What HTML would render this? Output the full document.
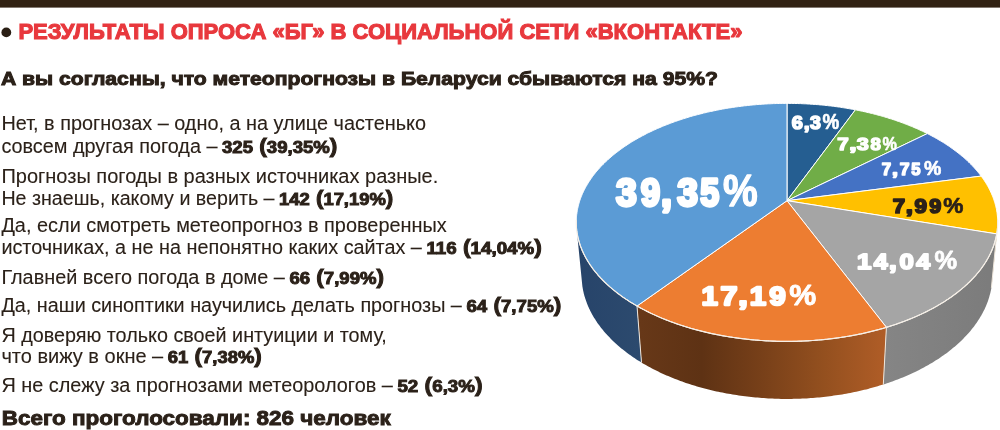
<!DOCTYPE html>
<html><head><meta charset="utf-8"><style>
html,body{margin:0;padding:0;background:#fff;width:1000px;height:430px;overflow:hidden}
svg{display:block;will-change:transform}
text{font-family:"Liberation Sans",sans-serif}
</style></head><body>
<svg width="1000" height="430" viewBox="0 0 1000 430">
<g fill="#2b2119"><rect x="0" y="0" width="1000" height="7.6" fill="#312213"/>
<circle cx="6.3" cy="32.4" r="4.9" fill="#2a1e14"/>
<defs>
<linearGradient id="gOrange" gradientUnits="userSpaceOnUse" x1="640" y1="0" x2="886" y2="0">
<stop offset="0" stop-color="#673818"/><stop offset="0.25" stop-color="#5e3214"/><stop offset="0.5" stop-color="#784019"/><stop offset="0.75" stop-color="#94501f"/><stop offset="1" stop-color="#b05d27"/></linearGradient>
<linearGradient id="gGrey" gradientUnits="userSpaceOnUse" x1="886" y1="0" x2="1000" y2="0">
<stop offset="0" stop-color="#858585"/><stop offset="1" stop-color="#7b7b7b"/></linearGradient>
<linearGradient id="gBlue" gradientUnits="userSpaceOnUse" x1="578" y1="0" x2="640" y2="0">
<stop offset="0" stop-color="#27446a"/><stop offset="1" stop-color="#2c4a6e"/></linearGradient>
</defs>
<polygon points="997.0,232.6 996.9,233.2 996.7,233.9 991.4,287.9 991.5,287.2 991.6,286.5" fill="#b38600"/>
<polygon points="996.7,233.9 996.6,235.0 996.3,236.0 996.1,237.1 995.9,238.2 995.6,239.2 995.3,240.3 995.0,241.3 994.7,242.4 994.4,243.5 994.1,244.5 993.7,245.6 993.3,246.7 992.9,247.7 992.5,248.8 992.1,249.8 991.6,250.9 991.1,252.0 990.6,253.0 990.1,254.1 989.6,255.1 989.1,256.2 988.5,257.3 987.9,258.3 987.3,259.4 986.7,260.4 986.1,261.5 985.4,262.5 984.7,263.5 984.0,264.6 983.3,265.6 982.6,266.7 981.9,267.7 981.1,268.7 980.3,269.8 979.5,270.8 978.7,271.8 977.9,272.9 977.0,273.9 976.1,274.9 975.2,275.9 974.3,276.9 973.4,277.9 972.4,278.9 971.5,279.9 970.5,280.9 969.5,281.9 968.5,282.9 967.4,283.9 966.4,284.9 965.3,285.8 964.2,286.8 963.1,287.8 962.0,288.7 960.8,289.7 959.7,290.6 958.5,291.6 957.3,292.5 956.1,293.4 954.8,294.4 953.6,295.3 952.3,296.2 951.0,297.1 949.7,298.0 948.4,298.9 947.0,299.8 945.7,300.7 944.3,301.6 942.9,302.5 941.5,303.3 940.1,304.2 938.6,305.0 937.2,305.9 935.7,306.7 934.2,307.6 932.7,308.4 931.2,309.2 929.6,310.0 928.1,310.8 926.5,311.6 924.9,312.4 923.3,313.1 921.7,313.9 920.1,314.7 918.4,315.4 916.8,316.2 915.1,316.9 913.4,317.6 911.7,318.3 910.0,319.0 908.2,319.7 906.5,320.4 904.7,321.1 902.9,321.8 901.2,322.4 899.4,323.1 897.5,323.7 895.7,324.4 893.9,325.0 892.0,325.6 890.1,326.2 888.3,326.8 886.4,327.3 883.3,384.5 885.1,383.9 887.0,383.3 888.8,382.7 890.6,382.0 892.4,381.4 894.1,380.7 895.9,380.1 897.7,379.4 899.4,378.7 901.1,378.1 902.8,377.4 904.5,376.7 906.2,375.9 907.9,375.2 909.6,374.5 911.2,373.7 912.8,373.0 914.5,372.2 916.1,371.4 917.6,370.7 919.2,369.9 920.8,369.1 922.3,368.3 923.9,367.4 925.4,366.6 926.9,365.8 928.4,365.0 929.8,364.1 931.3,363.2 932.7,362.4 934.1,361.5 935.5,360.6 936.9,359.8 938.3,358.9 939.7,358.0 941.0,357.1 942.3,356.1 943.6,355.2 944.9,354.3 946.2,353.4 947.5,352.4 948.7,351.5 949.9,350.5 951.2,349.6 952.3,348.6 953.5,347.6 954.7,346.7 955.8,345.7 956.9,344.7 958.0,343.7 959.1,342.7 960.2,341.7 961.3,340.7 962.3,339.7 963.3,338.7 964.3,337.6 965.3,336.6 966.3,335.6 967.2,334.6 968.2,333.5 969.1,332.5 970.0,331.4 970.8,330.4 971.7,329.3 972.5,328.3 973.4,327.2 974.2,326.2 975.0,325.1 975.7,324.0 976.5,323.0 977.2,321.9 977.9,320.8 978.6,319.7 979.3,318.7 980.0,317.6 980.6,316.5 981.3,315.4 981.9,314.3 982.5,313.2 983.1,312.1 983.6,311.0 984.2,309.9 984.7,308.9 985.2,307.8 985.7,306.7 986.2,305.6 986.6,304.5 987.0,303.4 987.5,302.3 987.9,301.2 988.3,300.0 988.6,298.9 989.0,297.8 989.3,296.7 989.6,295.6 989.9,294.5 990.2,293.4 990.5,292.3 990.7,291.2 991.0,290.1 991.2,289.0 991.4,287.9" fill="url(#gGrey)"/>
<polygon points="886.4,327.3 884.5,327.9 882.5,328.5 880.6,329.0 878.6,329.6 876.7,330.1 874.7,330.6 872.7,331.1 870.7,331.6 868.7,332.1 866.7,332.6 864.7,333.0 862.6,333.5 860.6,333.9 858.5,334.3 856.5,334.8 854.4,335.2 852.3,335.5 850.3,335.9 848.2,336.3 846.1,336.6 843.9,337.0 841.8,337.3 839.7,337.6 837.6,337.9 835.4,338.2 833.3,338.5 831.2,338.8 829.0,339.0 826.8,339.3 824.7,339.5 822.5,339.7 820.3,339.9 818.2,340.1 816.0,340.3 813.8,340.4 811.6,340.6 809.4,340.7 807.2,340.9 805.0,341.0 802.8,341.1 800.6,341.2 798.4,341.2 796.2,341.3 794.0,341.3 791.8,341.4 789.6,341.4 787.4,341.4 785.2,341.4 783.0,341.4 780.8,341.4 778.6,341.3 776.4,341.3 774.2,341.2 772.0,341.1 769.8,341.0 767.6,340.9 765.4,340.8 763.2,340.6 761.0,340.5 758.8,340.3 756.6,340.2 754.4,340.0 752.3,339.8 750.1,339.6 747.9,339.3 745.8,339.1 743.6,338.9 741.5,338.6 739.3,338.3 737.2,338.0 735.0,337.7 732.9,337.4 730.8,337.1 728.7,336.8 726.6,336.4 724.5,336.1 722.4,335.7 720.3,335.3 718.2,334.9 716.2,334.5 714.1,334.1 712.1,333.6 710.0,333.2 708.0,332.7 706.0,332.3 704.0,331.8 702.0,331.3 700.0,330.8 698.0,330.3 696.1,329.8 694.1,329.2 692.2,328.7 690.2,328.1 688.3,327.5 686.4,327.0 684.5,326.4 682.6,325.8 680.7,325.2 678.9,324.5 677.0,323.9 675.2,323.3 673.4,322.6 671.6,322.0 669.8,321.3 668.0,320.6 666.2,319.9 664.5,319.2 662.7,318.5 661.0,317.8 659.3,317.1 657.6,316.3 655.9,315.6 654.3,314.8 652.6,314.1 651.0,313.3 649.4,312.5 647.8,311.7 646.2,310.9 644.6,310.1 643.1,309.3 641.5,308.5 640.0,307.7 638.5,306.8 637.0,306.0 641.5,362.5 642.9,363.4 644.4,364.2 645.9,365.1 647.4,365.9 648.9,366.8 650.4,367.6 652.0,368.4 653.5,369.2 655.1,370.0 656.7,370.8 658.3,371.6 659.9,372.4 661.5,373.2 663.2,373.9 664.9,374.7 666.5,375.4 668.2,376.1 669.9,376.8 671.6,377.6 673.4,378.3 675.1,378.9 676.9,379.6 678.6,380.3 680.4,380.9 682.2,381.6 684.0,382.2 685.8,382.9 687.7,383.5 689.5,384.1 691.4,384.7 693.2,385.3 695.1,385.8 697.0,386.4 698.9,386.9 700.8,387.5 702.7,388.0 704.6,388.5 706.6,389.0 708.5,389.5 710.5,390.0 712.4,390.5 714.4,390.9 716.4,391.4 718.4,391.8 720.4,392.2 722.4,392.6 724.4,393.0 726.5,393.4 728.5,393.8 730.5,394.1 732.6,394.5 734.6,394.8 736.7,395.1 738.7,395.5 740.8,395.7 742.9,396.0 745.0,396.3 747.1,396.6 749.2,396.8 751.3,397.0 753.4,397.2 755.5,397.4 757.6,397.6 759.7,397.8 761.8,398.0 763.9,398.1 766.0,398.3 768.2,398.4 770.3,398.5 772.4,398.6 774.6,398.7 776.7,398.8 778.8,398.8 781.0,398.9 783.1,398.9 785.2,398.9 787.4,398.9 789.5,398.9 791.7,398.9 793.8,398.8 795.9,398.8 798.1,398.7 800.2,398.7 802.3,398.6 804.4,398.5 806.6,398.4 808.7,398.2 810.8,398.1 812.9,397.9 815.1,397.8 817.2,397.6 819.3,397.4 821.4,397.2 823.5,396.9 825.6,396.7 827.7,396.5 829.8,396.2 831.8,395.9 833.9,395.6 836.0,395.3 838.0,395.0 840.1,394.7 842.2,394.4 844.2,394.0 846.2,393.7 848.3,393.3 850.3,392.9 852.3,392.5 854.3,392.1 856.3,391.7 858.3,391.2 860.3,390.8 862.3,390.3 864.2,389.8 866.2,389.4 868.1,388.9 870.0,388.3 872.0,387.8 873.9,387.3 875.8,386.8 877.7,386.2 879.6,385.6 881.4,385.1 883.3,384.5" fill="url(#gOrange)"/>
<polygon points="637.0,306.0 635.6,305.2 634.1,304.3 632.7,303.4 631.2,302.6 629.8,301.7 628.5,300.8 627.1,299.9 625.7,299.0 624.4,298.1 623.1,297.2 621.8,296.3 620.5,295.4 619.3,294.4 618.0,293.5 616.8,292.6 615.6,291.6 614.4,290.7 613.2,289.7 612.1,288.8 610.9,287.8 609.8,286.8 608.7,285.8 607.6,284.9 606.6,283.9 605.5,282.9 604.5,281.9 603.5,280.9 602.5,279.9 601.5,278.9 600.6,277.9 599.6,276.9 598.7,275.9 597.8,274.8 597.0,273.8 596.1,272.8 595.3,271.8 594.4,270.7 593.6,269.7 592.8,268.7 592.1,267.6 591.3,266.6 590.6,265.5 589.9,264.5 589.2,263.4 588.5,262.4 587.9,261.3 587.2,260.3 586.6,259.2 586.0,258.2 585.4,257.1 584.9,256.0 584.3,255.0 583.8,253.9 583.3,252.9 582.8,251.8 582.3,250.7 581.9,249.7 581.4,248.6 581.0,247.5 580.6,246.4 580.2,245.4 579.9,244.3 579.5,243.2 579.2,242.2 578.9,241.1 578.6,240.0 578.3,239.0 578.1,237.9 577.8,236.8 577.6,235.8 577.4,234.7 577.2,233.6 577.0,232.6 582.4,286.5 582.6,287.6 582.8,288.7 583.0,289.8 583.2,290.9 583.5,292.1 583.7,293.2 584.0,294.3 584.3,295.4 584.6,296.5 585.0,297.6 585.3,298.7 585.7,299.8 586.1,300.9 586.5,302.0 586.9,303.2 587.3,304.3 587.8,305.4 588.2,306.5 588.7,307.6 589.2,308.7 589.8,309.8 590.3,310.9 590.9,312.0 591.4,313.1 592.0,314.2 592.6,315.3 593.3,316.4 593.9,317.5 594.6,318.5 595.3,319.6 596.0,320.7 596.7,321.8 597.4,322.9 598.2,324.0 599.0,325.0 599.8,326.1 600.6,327.2 601.4,328.2 602.3,329.3 603.1,330.3 604.0,331.4 604.9,332.5 605.8,333.5 606.8,334.5 607.7,335.6 608.7,336.6 609.7,337.6 610.7,338.7 611.7,339.7 612.7,340.7 613.8,341.7 614.9,342.7 616.0,343.7 617.1,344.7 618.2,345.7 619.4,346.7 620.5,347.7 621.7,348.7 622.9,349.6 624.1,350.6 625.4,351.5 626.6,352.5 627.9,353.4 629.2,354.4 630.5,355.3 631.8,356.2 633.1,357.2 634.5,358.1 635.8,359.0 637.2,359.9 638.6,360.8 640.0,361.6 641.5,362.5" fill="url(#gBlue)"/>
<line x1="996.7" y1="233.9" x2="991.4" y2="287.9" stroke="#eee6dc" stroke-width="1"/>
<line x1="886.4" y1="327.3" x2="883.3" y2="384.5" stroke="#eee6dc" stroke-width="1"/>
<line x1="637.0" y1="306.0" x2="641.5" y2="362.5" stroke="#eee6dc" stroke-width="1"/>
<polygon points="787.0,200.7 787.0,103.4 788.5,103.4 790.0,103.4 791.5,103.4 793.0,103.4 794.5,103.5 796.0,103.5 797.6,103.5 799.1,103.6 800.6,103.6 802.1,103.7 803.6,103.8 805.1,103.8 806.6,103.9 808.1,104.0 809.6,104.1 811.1,104.2 812.6,104.3 814.1,104.4 815.6,104.5 817.1,104.6 818.6,104.7 820.1,104.9 821.6,105.0 823.1,105.1 824.5,105.3 826.0,105.4 827.5,105.6 829.0,105.8 830.5,105.9 832.0,106.1 833.5,106.3 834.9,106.5 836.4,106.7 837.9,106.9 839.4,107.1 840.8,107.3 842.3,107.6 843.8,107.8 845.2,108.0 846.7,108.3 848.1,108.5 849.6,108.8 851.0,109.0 852.5,109.3 853.9,109.5 855.4,109.8" fill="#255E91" stroke="#ffffff" stroke-width="1" stroke-linejoin="round"/>
<polygon points="787.0,200.7 855.4,109.8 856.8,110.1 858.3,110.4 859.7,110.7 861.1,111.0 862.6,111.3 864.0,111.6 865.4,111.9 866.8,112.3 868.2,112.6 869.6,112.9 871.1,113.3 872.5,113.6 873.9,114.0 875.3,114.3 876.6,114.7 878.0,115.1 879.4,115.4 880.8,115.8 882.2,116.2 883.5,116.6 884.9,117.0 886.3,117.4 887.6,117.8 889.0,118.3 890.3,118.7 891.7,119.1 893.0,119.5 894.4,120.0 895.7,120.4 897.0,120.9 898.4,121.4 899.7,121.8 901.0,122.3 902.3,122.8 903.6,123.3 904.9,123.8 906.2,124.2 907.5,124.8 908.8,125.3 910.0,125.8 911.3,126.3 912.6,126.8 913.8,127.4 915.1,127.9 916.3,128.4 917.6,129.0 918.8,129.5 920.0,130.1 921.3,130.7 922.5,131.2 923.7,131.8 924.9,132.4 926.1,133.0 927.3,133.6" fill="#70AD47" stroke="#ffffff" stroke-width="1" stroke-linejoin="round"/>
<polygon points="787.0,200.7 927.3,133.6 928.5,134.2 929.7,134.8 930.8,135.4 932.0,136.0 933.2,136.7 934.4,137.3 935.5,138.0 936.7,138.6 937.8,139.3 938.9,139.9 940.1,140.6 941.2,141.3 942.3,141.9 943.4,142.6 944.5,143.3 945.6,144.0 946.6,144.7 947.7,145.4 948.8,146.1 949.8,146.8 950.8,147.6 951.9,148.3 952.9,149.0 953.9,149.8 954.9,150.5 955.9,151.2 956.9,152.0 957.9,152.8 958.9,153.5 959.8,154.3 960.8,155.1 961.7,155.9 962.6,156.6 963.6,157.4 964.5,158.2 965.4,159.0 966.3,159.8 967.1,160.6 968.0,161.5 968.9,162.3 969.7,163.1 970.6,163.9 971.4,164.8 972.2,165.6 973.0,166.5 973.8,167.3 974.6,168.2 975.4,169.0 976.1,169.9 976.9,170.8 977.6,171.7 978.3,172.5 979.1,173.4 979.8,174.3 980.5,175.2 981.1,176.1" fill="#4472C4" stroke="#ffffff" stroke-width="1" stroke-linejoin="round"/>
<polygon points="787.0,200.7 981.1,176.1 981.8,177.0 982.5,177.9 983.1,178.8 983.7,179.7 984.3,180.6 984.9,181.6 985.5,182.5 986.1,183.4 986.7,184.3 987.2,185.3 987.8,186.2 988.3,187.2 988.8,188.1 989.3,189.1 989.8,190.0 990.3,191.0 990.7,192.0 991.2,192.9 991.6,193.9 992.0,194.9 992.4,195.8 992.8,196.8 993.2,197.8 993.5,198.8 993.9,199.8 994.2,200.8 994.5,201.8 994.9,202.8 995.1,203.8 995.4,204.8 995.7,205.8 995.9,206.8 996.1,207.8 996.4,208.8 996.6,209.9 996.7,210.9 996.9,211.9 997.1,212.9 997.2,214.0 997.3,215.0 997.4,216.0 997.5,217.1 997.6,218.1 997.7,219.2 997.7,220.2 997.7,221.3 997.7,222.3 997.7,223.3 997.7,224.4 997.7,225.4 997.6,226.5 997.5,227.6 997.4,228.6 997.3,229.7 997.2,230.7 997.1,231.8 996.9,232.8 996.7,233.9" fill="#FFC000" stroke="#ffffff" stroke-width="1" stroke-linejoin="round"/>
<polygon points="787.0,200.7 996.7,233.9 996.6,235.0 996.3,236.0 996.1,237.1 995.9,238.2 995.6,239.2 995.3,240.3 995.0,241.3 994.7,242.4 994.4,243.5 994.1,244.5 993.7,245.6 993.3,246.7 992.9,247.7 992.5,248.8 992.1,249.8 991.6,250.9 991.1,252.0 990.6,253.0 990.1,254.1 989.6,255.1 989.1,256.2 988.5,257.3 987.9,258.3 987.3,259.4 986.7,260.4 986.1,261.5 985.4,262.5 984.7,263.5 984.0,264.6 983.3,265.6 982.6,266.7 981.9,267.7 981.1,268.7 980.3,269.8 979.5,270.8 978.7,271.8 977.9,272.9 977.0,273.9 976.1,274.9 975.2,275.9 974.3,276.9 973.4,277.9 972.4,278.9 971.5,279.9 970.5,280.9 969.5,281.9 968.5,282.9 967.4,283.9 966.4,284.9 965.3,285.8 964.2,286.8 963.1,287.8 962.0,288.7 960.8,289.7 959.7,290.6 958.5,291.6 957.3,292.5 956.1,293.4 954.8,294.4 953.6,295.3 952.3,296.2 951.0,297.1 949.7,298.0 948.4,298.9 947.0,299.8 945.7,300.7 944.3,301.6 942.9,302.5 941.5,303.3 940.1,304.2 938.6,305.0 937.2,305.9 935.7,306.7 934.2,307.6 932.7,308.4 931.2,309.2 929.6,310.0 928.1,310.8 926.5,311.6 924.9,312.4 923.3,313.1 921.7,313.9 920.1,314.7 918.4,315.4 916.8,316.2 915.1,316.9 913.4,317.6 911.7,318.3 910.0,319.0 908.2,319.7 906.5,320.4 904.7,321.1 902.9,321.8 901.2,322.4 899.4,323.1 897.5,323.7 895.7,324.4 893.9,325.0 892.0,325.6 890.1,326.2 888.3,326.8 886.4,327.3" fill="#A5A5A5" stroke="#ffffff" stroke-width="1" stroke-linejoin="round"/>
<polygon points="787.0,200.7 886.4,327.3 884.5,327.9 882.5,328.5 880.6,329.0 878.6,329.6 876.7,330.1 874.7,330.6 872.7,331.1 870.7,331.6 868.7,332.1 866.7,332.6 864.7,333.0 862.6,333.5 860.6,333.9 858.5,334.3 856.5,334.8 854.4,335.2 852.3,335.5 850.3,335.9 848.2,336.3 846.1,336.6 843.9,337.0 841.8,337.3 839.7,337.6 837.6,337.9 835.4,338.2 833.3,338.5 831.2,338.8 829.0,339.0 826.8,339.3 824.7,339.5 822.5,339.7 820.3,339.9 818.2,340.1 816.0,340.3 813.8,340.4 811.6,340.6 809.4,340.7 807.2,340.9 805.0,341.0 802.8,341.1 800.6,341.2 798.4,341.2 796.2,341.3 794.0,341.3 791.8,341.4 789.6,341.4 787.4,341.4 785.2,341.4 783.0,341.4 780.8,341.4 778.6,341.3 776.4,341.3 774.2,341.2 772.0,341.1 769.8,341.0 767.6,340.9 765.4,340.8 763.2,340.6 761.0,340.5 758.8,340.3 756.6,340.2 754.4,340.0 752.3,339.8 750.1,339.6 747.9,339.3 745.8,339.1 743.6,338.9 741.5,338.6 739.3,338.3 737.2,338.0 735.0,337.7 732.9,337.4 730.8,337.1 728.7,336.8 726.6,336.4 724.5,336.1 722.4,335.7 720.3,335.3 718.2,334.9 716.2,334.5 714.1,334.1 712.1,333.6 710.0,333.2 708.0,332.7 706.0,332.3 704.0,331.8 702.0,331.3 700.0,330.8 698.0,330.3 696.1,329.8 694.1,329.2 692.2,328.7 690.2,328.1 688.3,327.5 686.4,327.0 684.5,326.4 682.6,325.8 680.7,325.2 678.9,324.5 677.0,323.9 675.2,323.3 673.4,322.6 671.6,322.0 669.8,321.3 668.0,320.6 666.2,319.9 664.5,319.2 662.7,318.5 661.0,317.8 659.3,317.1 657.6,316.3 655.9,315.6 654.3,314.8 652.6,314.1 651.0,313.3 649.4,312.5 647.8,311.7 646.2,310.9 644.6,310.1 643.1,309.3 641.5,308.5 640.0,307.7 638.5,306.8 637.0,306.0" fill="#ED7D31" stroke="#ffffff" stroke-width="1" stroke-linejoin="round"/>
<polygon points="787.0,200.7 637.0,306.0 635.6,305.2 634.1,304.3 632.7,303.4 631.2,302.6 629.8,301.7 628.5,300.8 627.1,299.9 625.7,299.0 624.4,298.1 623.1,297.2 621.8,296.3 620.5,295.4 619.2,294.4 618.0,293.5 616.8,292.6 615.6,291.6 614.4,290.7 613.2,289.7 612.0,288.7 610.9,287.8 609.8,286.8 608.7,285.8 607.6,284.8 606.5,283.9 605.5,282.9 604.5,281.9 603.5,280.9 602.5,279.9 601.5,278.9 600.6,277.9 599.6,276.8 598.7,275.8 597.8,274.8 596.9,273.8 596.1,272.8 595.2,271.7 594.4,270.7 593.6,269.7 592.8,268.6 592.0,267.6 591.3,266.5 590.6,265.5 589.9,264.4 589.2,263.4 588.5,262.3 587.8,261.3 587.2,260.2 586.6,259.2 586.0,258.1 585.4,257.1 584.8,256.0 584.3,254.9 583.8,253.9 583.3,252.8 582.8,251.7 582.3,250.7 581.8,249.6 581.4,248.5 581.0,247.5 580.6,246.4 580.2,245.3 579.9,244.2 579.5,243.2 579.2,242.1 578.9,241.0 578.6,240.0 578.3,238.9 578.0,237.8 577.8,236.8 577.6,235.7 577.4,234.6 577.2,233.5 577.0,232.5 576.9,231.4 576.7,230.4 576.6,229.3 576.5,228.2 576.4,227.2 576.4,226.1 576.3,225.0 576.3,224.0 576.3,222.9 576.3,221.9 576.3,220.8 576.3,219.8 576.4,218.7 576.4,217.7 576.5,216.6 576.6,215.6 576.7,214.6 576.9,213.5 577.0,212.5 577.2,211.5 577.3,210.4 577.5,209.4 577.7,208.4 578.0,207.3 578.2,206.3 578.5,205.3 578.7,204.3 579.0,203.3 579.3,202.3 579.6,201.3 579.9,200.3 580.3,199.3 580.6,198.3 581.0,197.3 581.4,196.3 581.8,195.3 582.2,194.3 582.6,193.3 583.1,192.4 583.5,191.4 584.0,190.4 584.5,189.5 585.0,188.5 585.5,187.6 586.0,186.6 586.6,185.7 587.1,184.7 587.7,183.8 588.3,182.8 588.8,181.9 589.4,181.0 590.1,180.1 590.7,179.1 591.3,178.2 592.0,177.3 592.6,176.4 593.3,175.5 594.0,174.6 594.7,173.7 595.4,172.8 596.1,171.9 596.9,171.1 597.6,170.2 598.4,169.3 599.2,168.5 599.9,167.6 600.7,166.7 601.5,165.9 602.3,165.1 603.2,164.2 604.0,163.4 604.9,162.5 605.7,161.7 606.6,160.9 607.5,160.1 608.3,159.3 609.2,158.5 610.2,157.7 611.1,156.9 612.0,156.1 612.9,155.3 613.9,154.5 614.8,153.8 615.8,153.0 616.8,152.2 617.8,151.5 618.8,150.7 619.8,150.0 620.8,149.2 621.8,148.5 622.8,147.8 623.9,147.0 624.9,146.3 626.0,145.6 627.1,144.9 628.1,144.2 629.2,143.5 630.3,142.8 631.4,142.1 632.5,141.4 633.6,140.8 634.8,140.1 635.9,139.4 637.0,138.8 638.2,138.1 639.3,137.5 640.5,136.9 641.7,136.2 642.8,135.6 644.0,135.0 645.2,134.4 646.4,133.7 647.6,133.1 648.8,132.5 650.0,131.9 651.3,131.4 652.5,130.8 653.7,130.2 655.0,129.6 656.2,129.1 657.5,128.5 658.8,128.0 660.0,127.4 661.3,126.9 662.6,126.3 663.9,125.8 665.2,125.3 666.5,124.8 667.8,124.3 669.1,123.8 670.4,123.3 671.7,122.8 673.0,122.3 674.4,121.8 675.7,121.3 677.0,120.9 678.4,120.4 679.7,120.0 681.1,119.5 682.5,119.1 683.8,118.6 685.2,118.2 686.6,117.8 688.0,117.3 689.3,116.9 690.7,116.5 692.1,116.1 693.5,115.7 694.9,115.3 696.3,115.0 697.7,114.6 699.1,114.2 700.6,113.9 702.0,113.5 703.4,113.1 704.8,112.8 706.3,112.5 707.7,112.1 709.1,111.8 710.6,111.5 712.0,111.2 713.5,110.9 714.9,110.6 716.4,110.3 717.8,110.0 719.3,109.7 720.8,109.4 722.2,109.1 723.7,108.9 725.2,108.6 726.6,108.4 728.1,108.1 729.6,107.9 731.1,107.7 732.6,107.4 734.0,107.2 735.5,107.0 737.0,106.8 738.5,106.6 740.0,106.4 741.5,106.2 743.0,106.0 744.5,105.8 746.0,105.7 747.5,105.5 749.0,105.3 750.5,105.2 752.0,105.0 753.5,104.9 755.1,104.8 756.6,104.6 758.1,104.5 759.6,104.4 761.1,104.3 762.6,104.2 764.1,104.1 765.7,104.0 767.2,103.9 768.7,103.8 770.2,103.8 771.8,103.7 773.3,103.6 774.8,103.6 776.3,103.5 777.8,103.5 779.4,103.5 780.9,103.4 782.4,103.4 783.9,103.4 785.5,103.4 787.0,103.4" fill="#5B9BD5" stroke="#ffffff" stroke-width="1" stroke-linejoin="round"/>
<polyline points="997.7,219.8 997.7,220.9 997.7,221.9 997.7,223.0 997.7,224.0 997.7,225.1 997.6,226.2 997.6,227.2 997.5,228.3 997.4,229.4 997.3,230.4 997.1,231.5 997.0,232.6 996.8,233.6 996.6,234.7 996.4,235.8 996.2,236.8 995.9,237.9 995.7,239.0 995.4,240.0 995.1,241.1 994.8,242.2 994.5,243.3 994.1,244.3 993.8,245.4 993.4,246.5 993.0,247.6 992.5,248.6 992.1,249.7 991.7,250.8 991.2,251.8 990.7,252.9 990.2,254.0 989.6,255.0 989.1,256.1 988.5,257.2 988.0,258.2 987.3,259.3 986.7,260.4 986.1,261.4 985.4,262.5 984.7,263.5 984.1,264.6 983.3,265.6 982.6,266.7 981.9,267.7 981.1,268.8 980.3,269.8 979.5,270.8 978.7,271.9 977.8,272.9 976.9,273.9 976.1,275.0 975.2,276.0 974.2,277.0 973.3,278.0 972.3,279.0 971.4,280.0 970.4,281.0 969.4,282.0 968.3,283.0 967.3,284.0 966.2,285.0 965.1,286.0 964.0,287.0 962.9,287.9 961.8,288.9 960.6,289.9 959.4,290.8 958.2,291.8 957.0,292.7 955.8,293.7 954.5,294.6 953.3,295.5 952.0,296.5 950.7,297.4 949.3,298.3 948.0,299.2 946.6,300.1 945.3,301.0 943.9,301.9 942.5,302.7 941.0,303.6 939.6,304.5 938.1,305.3 936.7,306.2 935.2,307.0 933.7,307.9 932.1,308.7 930.6,309.5 929.0,310.3 927.5,311.1 925.9,311.9 924.3,312.7 922.6,313.5 921.0,314.3 919.3,315.0 917.7,315.8 916.0,316.5 914.3,317.2 912.6,318.0 910.9,318.7 909.1,319.4 907.3,320.1 905.6,320.8 903.8,321.5 902.0,322.1 900.2,322.8 898.4,323.4 896.5,324.1 894.7,324.7 892.8,325.3 890.9,325.9 889.0,326.5 887.1,327.1 885.2,327.7 883.3,328.3 881.3,328.8 879.4,329.4 877.4,329.9 875.5,330.4 873.5,330.9 871.5,331.4 869.5,331.9 867.5,332.4 865.4,332.9 863.4,333.3 861.4,333.8 859.3,334.2 857.3,334.6 855.2,335.0 853.1,335.4 851.0,335.8 848.9,336.2 846.8,336.5 844.7,336.9 842.6,337.2 840.5,337.5 838.3,337.8 836.2,338.1 834.1,338.4 831.9,338.7 829.8,338.9 827.6,339.2 825.4,339.4 823.3,339.6 821.1,339.8 818.9,340.0 816.7,340.2 814.5,340.4 812.3,340.5 810.2,340.7 808.0,340.8 805.8,340.9 803.6,341.0 801.4,341.1 799.1,341.2 796.9,341.3 794.7,341.3 792.5,341.4 790.3,341.4 788.1,341.4 785.9,341.4 783.7,341.4 781.5,341.4 779.3,341.3 777.1,341.3 774.9,341.2 772.6,341.1 770.4,341.0 768.2,340.9 766.0,340.8 763.8,340.7 761.7,340.5 759.5,340.4 757.3,340.2 755.1,340.0 752.9,339.8 750.7,339.6 748.6,339.4 746.4,339.2 744.2,338.9 742.1,338.7 739.9,338.4 737.8,338.1 735.7,337.8 733.5,337.5 731.4,337.2 729.3,336.9 727.2,336.5 725.1,336.2 723.0,335.8 720.9,335.4 718.8,335.0 716.7,334.6 714.7,334.2 712.6,333.8 710.6,333.3 708.6,332.9 706.5,332.4 704.5,331.9 702.5,331.4 700.5,330.9 698.5,330.4 696.6,329.9 694.6,329.4 692.7,328.8 690.7,328.3 688.8,327.7 686.9,327.1 685.0,326.5 683.1,325.9 681.2,325.3 679.3,324.7 677.5,324.1 675.6,323.4 673.8,322.8 672.0,322.1 670.2,321.5 668.4,320.8 666.7,320.1 664.9,319.4 663.1,318.7 661.4,318.0 659.7,317.2 658.0,316.5 656.3,315.8 654.7,315.0 653.0,314.3 651.4,313.5 649.7,312.7 648.1,311.9 646.5,311.1 645.0,310.3 643.4,309.5 641.9,308.7 640.3,307.9 638.8,307.0 637.3,306.2 635.9,305.3 634.4,304.5 633.0,303.6 631.5,302.7 630.1,301.9 628.7,301.0 627.4,300.1 626.0,299.2 624.7,298.3 623.3,297.4 622.0,296.5 620.7,295.5 619.5,294.6 618.2,293.7 617.0,292.7 615.8,291.8 614.6,290.8 613.4,289.9 612.2,288.9 611.1,287.9 610.0,287.0 608.9,286.0 607.8,285.0 606.7,284.0 605.7,283.0 604.6,282.0 603.6,281.0 602.6,280.0 601.7,279.0 600.7,278.0 599.8,277.0 598.8,276.0 597.9,275.0 597.1,273.9 596.2,272.9 595.3,271.9 594.5,270.8 593.7,269.8 592.9,268.8 592.1,267.7 591.4,266.7 590.7,265.6 589.9,264.6 589.3,263.5 588.6,262.5 587.9,261.4 587.3,260.4 586.7,259.3 586.0,258.2 585.5,257.2 584.9,256.1 584.4,255.0 583.8,254.0 583.3,252.9 582.8,251.8 582.3,250.8 581.9,249.7 581.5,248.6 581.0,247.6 580.6,246.5 580.2,245.4 579.9,244.3 579.5,243.3 579.2,242.2 578.9,241.1 578.6,240.0 578.3,239.0 578.1,237.9 577.8,236.8 577.6,235.8 577.4,234.7 577.2,233.6 577.0,232.6 576.9,231.5 576.7,230.4 576.6,229.4 576.5,228.3 576.4,227.2 576.4,226.2 576.3,225.1 576.3,224.0 576.3,223.0 576.3,221.9 576.3,220.9 576.3,219.8" fill="none" stroke="#f6efe6" stroke-width="1.2"/>
<text x="1.4" y="130.4" font-size="19.4" stroke="#2b2119" stroke-width="0.1" textLength="424.7" lengthAdjust="spacingAndGlyphs" xml:space="preserve">Нет, в прогнозах – одно, а на улице частенько</text>
<text x="1.4" y="152.7" font-size="19.4" stroke="#2b2119" stroke-width="0.1" textLength="221.6" lengthAdjust="spacingAndGlyphs" xml:space="preserve">совсем другая погода – </text>
<text x="222.0" y="152.7" font-size="19.4" font-weight="bold" stroke="#2b2119" stroke-width="0.9" textLength="115.4" lengthAdjust="spacingAndGlyphs"><tspan font-size="15.9">325</tspan> (<tspan font-size="15.9">39,35%</tspan>)</text>
<text x="1.4" y="183.4" font-size="19.4" stroke="#2b2119" stroke-width="0.1" textLength="436.9" lengthAdjust="spacingAndGlyphs" xml:space="preserve">Прогнозы погоды в разных источниках разные.</text>
<text x="1.4" y="205.3" font-size="19.4" stroke="#2b2119" stroke-width="0.1" textLength="278.6" lengthAdjust="spacingAndGlyphs" xml:space="preserve">Не знаешь, какому и верить – </text>
<text x="279.0" y="205.3" font-size="19.4" font-weight="bold" stroke="#2b2119" stroke-width="0.9" textLength="114.3" lengthAdjust="spacingAndGlyphs"><tspan font-size="15.9">142</tspan> (<tspan font-size="15.9">17,19%</tspan>)</text>
<text x="1.4" y="231.6" font-size="19.4" stroke="#2b2119" stroke-width="0.1" textLength="445.4" lengthAdjust="spacingAndGlyphs" xml:space="preserve">Да, если смотреть метеопрогноз в проверенных</text>
<text x="1.4" y="253.6" font-size="19.4" stroke="#2b2119" stroke-width="0.1" textLength="426.0" lengthAdjust="spacingAndGlyphs" xml:space="preserve">источниках, а не на непонятно каких сайтах – </text>
<text x="426.4" y="253.6" font-size="19.4" font-weight="bold" stroke="#2b2119" stroke-width="0.9" textLength="115.4" lengthAdjust="spacingAndGlyphs"><tspan font-size="15.9">116</tspan> (<tspan font-size="15.9">14,04%</tspan>)</text>
<text x="1.4" y="284.4" font-size="19.4" stroke="#2b2119" stroke-width="0.1" textLength="289.0" lengthAdjust="spacingAndGlyphs" xml:space="preserve">Главней всего погода в доме – </text>
<text x="289.4" y="284.4" font-size="19.4" font-weight="bold" stroke="#2b2119" stroke-width="0.9" textLength="94.6" lengthAdjust="spacingAndGlyphs"><tspan font-size="15.9">66</tspan> (<tspan font-size="15.9">7,99%</tspan>)</text>
<text x="1.4" y="311.8" font-size="19.4" stroke="#2b2119" stroke-width="0.1" textLength="466.0" lengthAdjust="spacingAndGlyphs" xml:space="preserve">Да, наши синоптики научились делать прогнозы – </text>
<text x="466.4" y="311.8" font-size="19.4" font-weight="bold" stroke="#2b2119" stroke-width="0.9" textLength="95.0" lengthAdjust="spacingAndGlyphs"><tspan font-size="15.9">64</tspan> (<tspan font-size="15.9">7,75%</tspan>)</text>
<text x="1.4" y="341.6" font-size="19.4" stroke="#2b2119" stroke-width="0.1" textLength="385.4" lengthAdjust="spacingAndGlyphs" xml:space="preserve">Я доверяю только своей интуиции и тому,</text>
<text x="1.4" y="362.8" font-size="19.4" stroke="#2b2119" stroke-width="0.1" textLength="167.4" lengthAdjust="spacingAndGlyphs" xml:space="preserve">что вижу в окне – </text>
<text x="167.8" y="362.8" font-size="19.4" font-weight="bold" stroke="#2b2119" stroke-width="0.9" textLength="94.0" lengthAdjust="spacingAndGlyphs"><tspan font-size="15.9">61</tspan> (<tspan font-size="15.9">7,38%</tspan>)</text>
<text x="1.4" y="392.2" font-size="19.4" stroke="#2b2119" stroke-width="0.1" textLength="397.0" lengthAdjust="spacingAndGlyphs" xml:space="preserve">Я не слежу за прогнозами метеорологов – </text>
<text x="397.4" y="392.2" font-size="19.4" font-weight="bold" stroke="#2b2119" stroke-width="0.9" textLength="85.2" lengthAdjust="spacingAndGlyphs"><tspan font-size="15.9">52</tspan> (<tspan font-size="15.9">6,3%</tspan>)</text>
<text x="1.8" y="424.8" font-size="20" font-weight="bold" stroke="#2b2119" stroke-width="0.9" textLength="389" lengthAdjust="spacingAndGlyphs">Всего проголосовали: 826 человек</text>
<text x="18.4" y="39.3" font-size="22.3" font-weight="bold" fill="#e8383d" stroke="#e8383d" stroke-width="1.1" textLength="724" lengthAdjust="spacingAndGlyphs">РЕЗУЛЬТАТЫ ОПРОСА «БГ» В СОЦИАЛЬНОЙ СЕТИ «ВКОНТАКТЕ»</text>
<text x="0.9" y="84.5" font-size="19.2" font-weight="bold" stroke="#2b2119" stroke-width="1.0" textLength="717" lengthAdjust="spacingAndGlyphs">А вы согласны, что метеопрогнозы в Беларуси сбываются на 95%?</text>
<text transform="translate(616.03,206.32) scale(0.942,1.000)" font-size="39.59" font-weight="bold" fill="#fff" stroke="#fff" stroke-width="3.37" stroke-linejoin="round">3</text><text transform="translate(640.77,206.32) scale(0.878,1.000)" font-size="39.59" font-weight="bold" fill="#fff" stroke="#fff" stroke-width="3.37" stroke-linejoin="round">9</text><text transform="translate(661.10,206.32) scale(0.997,1.000)" font-size="39.59" font-weight="bold" fill="#fff" stroke="#fff" stroke-width="3.37" stroke-linejoin="round">,</text><text transform="translate(677.23,206.32) scale(0.937,1.000)" font-size="39.59" font-weight="bold" fill="#fff" stroke="#fff" stroke-width="3.37" stroke-linejoin="round">3</text><text transform="translate(700.30,206.32) scale(0.858,1.000)" font-size="39.59" font-weight="bold" fill="#fff" stroke="#fff" stroke-width="3.37" stroke-linejoin="round">5</text><text transform="translate(723.09,206.32) scale(0.985,1.140)" font-size="39.59" font-weight="bold" fill="#fff" stroke="#fff" stroke-width="1.18" stroke-linejoin="round">%</text>
<text transform="translate(701.60,305.07) scale(1.108,1.000)" font-size="26.56" font-weight="bold" fill="#fff" stroke="#fff" stroke-width="2.26" stroke-linejoin="round">1</text><text transform="translate(720.39,305.07) scale(1.148,1.000)" font-size="26.56" font-weight="bold" fill="#fff" stroke="#fff" stroke-width="2.26" stroke-linejoin="round">7</text><text transform="translate(738.33,305.07) scale(1.287,1.000)" font-size="26.56" font-weight="bold" fill="#fff" stroke="#fff" stroke-width="2.26" stroke-linejoin="round">,</text><text transform="translate(749.70,305.07) scale(1.108,1.000)" font-size="26.56" font-weight="bold" fill="#fff" stroke="#fff" stroke-width="2.26" stroke-linejoin="round">1</text><text transform="translate(769.33,305.07) scale(1.117,1.000)" font-size="26.56" font-weight="bold" fill="#fff" stroke="#fff" stroke-width="2.26" stroke-linejoin="round">9</text><text transform="translate(789.13,305.07) scale(1.142,1.140)" font-size="26.56" font-weight="bold" fill="#fff" stroke="#fff" stroke-width="0.79" stroke-linejoin="round">%</text>
<text transform="translate(856.97,268.96) scale(1.169,1.000)" font-size="22.22" font-weight="bold" fill="#fff" stroke="#fff" stroke-width="1.89" stroke-linejoin="round">1</text><text transform="translate(873.68,268.96) scale(1.124,1.000)" font-size="22.22" font-weight="bold" fill="#fff" stroke="#fff" stroke-width="1.89" stroke-linejoin="round">4</text><text transform="translate(889.00,268.96) scale(1.243,1.000)" font-size="22.22" font-weight="bold" fill="#fff" stroke="#fff" stroke-width="1.89" stroke-linejoin="round">,</text><text transform="translate(899.48,268.96) scale(1.156,1.000)" font-size="22.22" font-weight="bold" fill="#fff" stroke="#fff" stroke-width="1.89" stroke-linejoin="round">0</text><text transform="translate(916.18,268.96) scale(1.124,1.000)" font-size="22.22" font-weight="bold" fill="#fff" stroke="#fff" stroke-width="1.89" stroke-linejoin="round">4</text><text transform="translate(934.45,268.96) scale(1.146,1.140)" font-size="22.22" font-weight="bold" fill="#fff" stroke="#fff" stroke-width="0.66" stroke-linejoin="round">%</text>
<text transform="translate(892.69,212.76) scale(1.121,1.000)" font-size="19.80" font-weight="bold" fill="#2b2119" stroke="#2b2119" stroke-width="1.68" stroke-linejoin="round">7</text><text transform="translate(905.64,212.76) scale(1.307,1.000)" font-size="19.80" font-weight="bold" fill="#2b2119" stroke="#2b2119" stroke-width="1.68" stroke-linejoin="round">,</text><text transform="translate(914.48,212.76) scale(1.136,1.000)" font-size="19.80" font-weight="bold" fill="#2b2119" stroke="#2b2119" stroke-width="1.68" stroke-linejoin="round">9</text><text transform="translate(929.37,212.76) scale(1.091,1.000)" font-size="19.80" font-weight="bold" fill="#2b2119" stroke="#2b2119" stroke-width="1.68" stroke-linejoin="round">9</text><text transform="translate(943.20,212.76) scale(1.144,1.140)" font-size="19.80" font-weight="bold" fill="#2b2119" stroke="#2b2119" stroke-width="0.59" stroke-linejoin="round">%</text>
<text transform="translate(881.74,174.86) scale(0.971,1.000)" font-size="17.37" font-weight="bold" fill="#fff" stroke="#fff" stroke-width="1.48" stroke-linejoin="round">7</text><text transform="translate(892.05,174.86) scale(1.237,1.000)" font-size="17.37" font-weight="bold" fill="#fff" stroke="#fff" stroke-width="1.48" stroke-linejoin="round">,</text><text transform="translate(899.74,174.86) scale(1.013,1.000)" font-size="17.37" font-weight="bold" fill="#fff" stroke="#fff" stroke-width="1.48" stroke-linejoin="round">7</text><text transform="translate(911.20,174.86) scale(0.964,1.000)" font-size="17.37" font-weight="bold" fill="#fff" stroke="#fff" stroke-width="1.48" stroke-linejoin="round">5</text><text transform="translate(924.09,174.86) scale(1.123,1.140)" font-size="17.37" font-weight="bold" fill="#fff" stroke="#fff" stroke-width="0.52" stroke-linejoin="round">%</text>
<text transform="translate(791.72,129.20) scale(1.061,1.000)" font-size="18.90" font-weight="bold" fill="#fff" stroke="#fff" stroke-width="1.61" stroke-linejoin="round">6</text><text transform="translate(803.67,129.20) scale(1.113,1.000)" font-size="18.90" font-weight="bold" fill="#fff" stroke="#fff" stroke-width="1.61" stroke-linejoin="round">,</text><text transform="translate(809.98,129.20) scale(1.036,1.000)" font-size="18.90" font-weight="bold" fill="#fff" stroke="#fff" stroke-width="1.61" stroke-linejoin="round">3</text><text transform="translate(822.53,129.20) scale(0.997,1.140)" font-size="18.90" font-weight="bold" fill="#fff" stroke="#fff" stroke-width="0.56" stroke-linejoin="round">%</text>
<text transform="translate(837.19,150.29) scale(1.239,1.000)" font-size="16.60" font-weight="bold" fill="#fff" stroke="#fff" stroke-width="1.41" stroke-linejoin="round">7</text><text transform="translate(849.13,150.29) scale(1.585,1.000)" font-size="16.60" font-weight="bold" fill="#fff" stroke="#fff" stroke-width="1.41" stroke-linejoin="round">,</text><text transform="translate(856.82,150.29) scale(1.304,1.000)" font-size="16.60" font-weight="bold" fill="#fff" stroke="#fff" stroke-width="1.41" stroke-linejoin="round">3</text><text transform="translate(870.40,150.29) scale(1.124,1.000)" font-size="16.60" font-weight="bold" fill="#fff" stroke="#fff" stroke-width="1.41" stroke-linejoin="round">8</text><text transform="translate(882.49,150.29) scale(0.979,1.140)" font-size="16.60" font-weight="bold" fill="#fff" stroke="#fff" stroke-width="0.49" stroke-linejoin="round">%</text>
</g></svg>
</body></html>
